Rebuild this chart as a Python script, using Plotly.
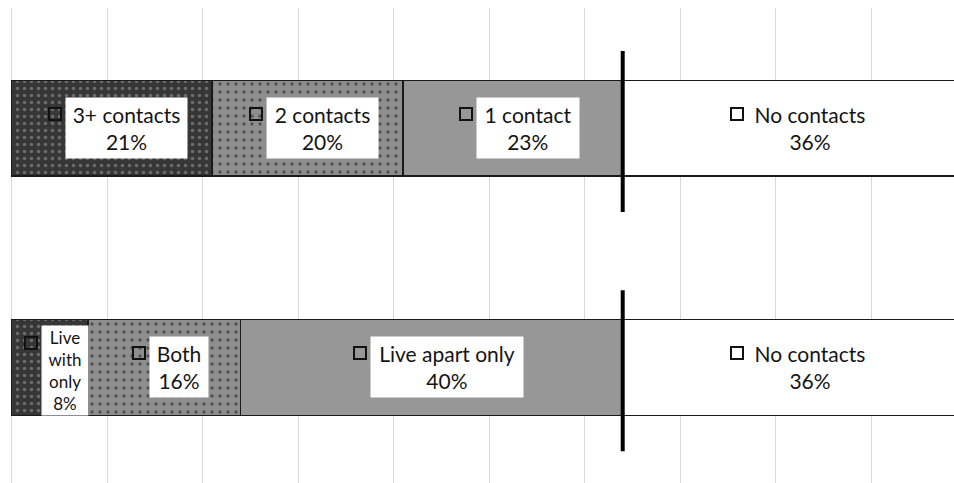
import plotly.graph_objects as go

# ---- data ----
rows = ["Number of contacts", "Type of contact"]
row_pos = [1, 0]
top_labels = ["3+ contacts", "2 contacts", "1 contact", "No contacts"]
top_values = [21, 20, 23, 36]
bottom_labels = ["Live with only", "Both", "Live apart only", "No contacts"]
bottom_values = [8, 16, 40, 36]

# ---- styles ----
seg_styles = [
    dict(color="#404040", pattern=dict(shape=".", fgcolor="#a0a0a0", bgcolor="#363636", size=7, solidity=0.2)),
    dict(color="#8c8c8c", pattern=dict(shape=".", fgcolor="#141414", bgcolor="#8e8e8e", size=8, solidity=0.14)),
    dict(color="#979797"),
    dict(color="#ffffff"),
]
wrap = {"Live with only": "Live<br>with<br>only"}
box_w = {"3+ contacts": 121, "2 contacts": 111, "1 contact": 102, "No contacts": 124,
         "Live with only": 46, "Both": 58, "Live apart only": 152}
font_fam = "Lato"
font_default = 21
font_small = {"Live with only": 17}
pad_default = 4
pad_small = {"Live with only": 1}
text_color = "#141414"

fig = go.Figure()

series = [(top_labels, top_values), (bottom_labels, bottom_values)]
for i in range(4):
    st = seg_styles[i]
    marker = dict(color=st["color"], line=dict(color="#1a1a1a", width=1.5))
    if "pattern" in st:
        marker["pattern"] = st["pattern"]
    fig.add_trace(go.Bar(
        x=[top_values[i], bottom_values[i]], y=row_pos, orientation="h",
        width=0.40, marker=marker, name=top_labels[i], hoverinfo="skip",
    ))

# thick divider at the start of "No contacts"
lx, ly = [], []
for (labs, vals), yp in zip(series, row_pos):
    split = sum(vals[:3])
    lx += [split, split, None]
    ly += [yp + 0.322, yp - 0.35, None]
fig.add_trace(go.Scatter(x=lx, y=ly, mode="lines", line=dict(color="#000000", width=4),
                         hoverinfo="skip", showlegend=False))

# labels with legend keys
for (labs, vals), yp in zip(series, row_pos):
    cum = 0
    for lab, v in zip(labs, vals):
        mid = cum + v / 2
        cum += v
        fs = font_small.get(lab, font_default)
        pad = pad_small.get(lab, pad_default)
        txt = f"{wrap.get(lab, lab)}<br>{v}%"
        nlines = txt.count("<br>") + 1
        bh = nlines * 1.3 * fs + 2 * pad
        bw = box_w[lab]
        ys = -3.5 if nlines > 2 else 0
        fig.add_annotation(
            x=mid, y=yp, xref="x", yref="y", text=txt, showarrow=False,
            xshift=15, yshift=ys, width=bw - 2 * pad, align="center",
            bgcolor="#ffffff", borderpad=pad,
            font=dict(family=font_fam, size=fs, color=text_color),
        )
        fig.add_annotation(
            x=mid, y=yp, xref="x", yref="y", text=" ", showarrow=False,
            xshift=15 - bw / 2 - 11, yshift=ys + bh / 2 - 17,
            width=10, height=10, borderpad=0, borderwidth=2, bordercolor="#111111",
            bgcolor="rgba(0,0,0,0)", font=dict(size=6),
        )

fig.update_layout(
    width=954, height=483, barmode="stack", showlegend=False,
    margin=dict(l=0, r=0, t=8, b=0),
    plot_bgcolor="#ffffff", paper_bgcolor="#ffffff",
    xaxis=dict(range=[-1.204, 98.69], tick0=0, dtick=10, showgrid=True, gridcolor="#d9d9d9",
               gridwidth=1, zeroline=False, showticklabels=False, ticks=""),
    yaxis=dict(range=[-0.483, 1.502], showgrid=False, zeroline=False, showticklabels=False, ticks=""),
)

fig.write_html("out.html")
